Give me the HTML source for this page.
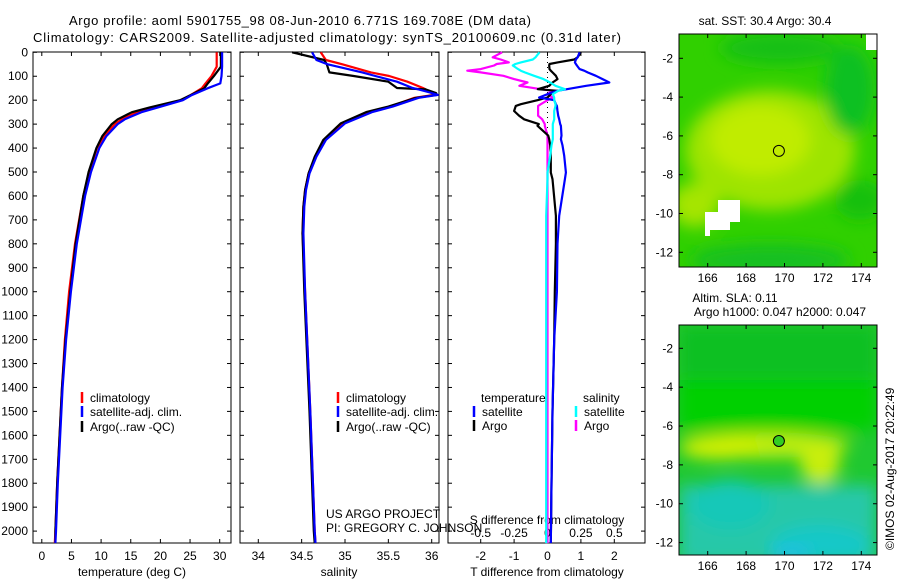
<!DOCTYPE html>
<html><head><meta charset="utf-8"><style>
body{margin:0;background:#fff}
svg{display:block;font-family:"Liberation Sans",sans-serif}
</style></head><body>
<svg id="c" width="900" height="580" viewBox="0 0 900 580">
<defs>
<filter id="bl" x="-20%" y="-20%" width="140%" height="140%"><feGaussianBlur stdDeviation="8"/></filter>
<clipPath id="m1c"><rect x="679" y="34" width="198" height="233"/></clipPath>
<clipPath id="m2c"><rect x="679" y="325" width="198" height="230"/></clipPath>
</defs>
<text x="300" y="25" font-size="13" text-anchor="middle" textLength="462">Argo profile: aoml 5901755_98 08-Jun-2010 6.771S 169.708E (DM data)</text>
<text x="327" y="42" font-size="13" text-anchor="middle" textLength="588">Climatology: CARS2009. Satellite-adjusted climatology: synTS_20100609.nc (0.31d later)</text>

<g>
<g clip-path="url(#m1c)">
<rect x="679" y="34" width="198" height="233" fill="#30d000"/>
<g filter="url(#bl)">
<ellipse cx="770" cy="150" rx="85" ry="60" fill="#9ee400"/>
<ellipse cx="760" cy="140" rx="50" ry="35" fill="#c0ec00"/>
<ellipse cx="695" cy="205" rx="25" ry="22" fill="#a5e500"/>
<ellipse cx="780" cy="48" rx="60" ry="16" fill="#18c018"/>
<ellipse cx="850" cy="90" rx="25" ry="45" fill="#10c020"/>
<ellipse cx="770" cy="260" rx="80" ry="16" fill="#14c020"/>
<ellipse cx="860" cy="200" rx="25" ry="20" fill="#12c010"/>
</g>
<path d="M705,236 L705,212 L718,212 L718,200 L740,200 L740,222 L730,222 L730,230 L710,230 L710,236 Z" fill="#fff"/>
<rect x="866" y="34" width="11" height="16" fill="#fff"/>
</g>
<rect x="679" y="34" width="198" height="233" fill="none" stroke="#000"/>
<circle id="m1dot" r="5.5" fill="none" stroke="#000"/>
<text x="765" y="25" font-size="12" text-anchor="middle">sat. SST: 30.4  Argo: 30.4</text>
<g id="m1ax"></g>
</g>

<g>
<g clip-path="url(#m2c)">
<rect x="679" y="325" width="198" height="230" fill="#20c830"/>
<g filter="url(#bl)">
<rect x="679" y="325" width="198" height="60" fill="#10c020"/>
<rect x="679" y="380" width="198" height="50" fill="#00d000"/>
<rect x="679" y="485" width="198" height="80" fill="#28c8a8"/>
<ellipse cx="730" cy="505" rx="40" ry="25" fill="#18c8b8"/>
<ellipse cx="820" cy="545" rx="50" ry="20" fill="#18c8c8"/>
<ellipse cx="765" cy="445" rx="85" ry="13" fill="#c0ee08"/>
<ellipse cx="820" cy="462" rx="20" ry="22" fill="#c8ee08"/>
<ellipse cx="720" cy="448" rx="40" ry="11" fill="#d4f000"/>
</g>
<ellipse cx="792" cy="552" rx="20" ry="8" fill="#20c0e0" filter="url(#bl)"/>
</g>
<rect x="679" y="325" width="198" height="230" fill="none" stroke="#000"/>
<circle id="m2dot" r="5.5" fill="#33cc22" stroke="#000"/>
<text x="735" y="302" font-size="12" text-anchor="middle">Altim. SLA: 0.11</text>
<text x="780" y="316" font-size="12" text-anchor="middle">Argo h1000: 0.047 h2000: 0.047</text>
<g id="m2ax"></g>
</g>
<text transform="translate(894,550) rotate(-90)" font-size="12">©IMOS 02-Aug-2017 20:22:49</text>

<g id="p1"></g>
<g id="p2"></g>
<g id="p3"></g>
</svg>
<script>
const depthT = [0,60,100,130,150,180,200,230,250,280,300,350,400,500,600,800,1000,1200,1400,1600,1800,2000,2050];
const tempClim = [29.5,29.5,28.6,27.6,27,25,23.5,19,16,13.5,12.3,10.5,9.3,8.0,7.0,5.6,4.6,3.9,3.4,3.0,2.6,2.3,2.2];
const tempSat  = [30.4,30.4,30.3,30.1,28,25.2,23.8,19.6,16.8,14.0,12.8,10.9,9.7,8.3,7.3,5.9,4.9,4.1,3.5,3.1,2.7,2.4,2.3];
const tempArgo = [30.2,30.2,29,28,27.4,25,23.3,18.2,15.2,12.8,11.8,10.2,9.2,7.9,7.0,5.7,4.8,4.0,3.4,3.0,2.6,2.3,2.3];
const depthS = [0,32,50,84,99,123,149,155,170,178,190,227,249,297,366,436,506,575,645,756,1000,1500,2000,2050];
const salClim = [34.72,34.78,34.97,35.3,35.51,35.72,35.9,35.93,36.0,36.03,35.8,35.52,35.29,34.98,34.77,34.66,34.58,34.54,34.52,34.51,34.54,34.6,34.65,34.66];
const salSat  = [34.62,34.67,34.8,35.2,35.35,35.6,35.78,35.85,36.0,36.07,35.85,35.55,35.32,35.0,34.78,34.67,34.59,34.55,34.53,34.52,34.54,34.6,34.65,34.66];
const salArgo = [34.39,34.76,34.79,34.82,35.1,35.5,35.6,35.93,36.05,36.06,35.82,35.5,35.25,34.95,34.75,34.65,34.58,34.54,34.52,34.51,34.53,34.59,34.64,34.65];
const depthD = [0,21,30,42,49,55,70,77,84,98,112,126,140,154,161,175,189,200,217,224,245,265,280,300,307,348,363,389,432,502,530,683,800,1000,1200,1500,1800,2050];
const dTsat  = [0.96,0.9,0.85,0.82,0.85,0.88,0.96,1.1,1.2,1.45,1.65,1.85,1.16,0.58,0.3,0.0,-0.25,0.2,0.25,0.28,0.3,0.32,0.35,0.38,0.4,0.42,0.4,0.45,0.5,0.55,0.52,0.35,0.3,0.28,0.2,0.15,0.12,0.1];
const dTargo = [1.0,0.9,0.8,0.3,0.06,0.05,0.06,0.1,0.15,0.25,0.3,0.15,0.05,-0.29,0.3,0.1,0.0,-0.3,-0.8,-0.95,-1.0,-0.85,-0.7,-0.26,-0.3,0.02,0.05,0.08,0.1,0.1,0.15,0.25,0.25,0.22,0.2,0.15,0.12,0.1];
const dSsat  = [-0.06,-0.09,-0.11,-0.2,-0.24,-0.26,-0.22,-0.2,-0.17,-0.1,-0.03,0.02,0.06,0.13,0.08,0.04,0.05,0.05,0.06,0.06,0.05,0.05,0.05,0.04,0.04,0.04,0.04,0.03,0.02,0.0,0.0,-0.01,-0.01,-0.01,-0.01,-0.01,-0.01,-0.01];
const dSargo = [-0.34,-0.41,-0.35,-0.29,-0.38,-0.4,-0.5,-0.6,-0.5,-0.33,-0.25,-0.15,-0.21,-0.05,0.04,0.0,0.04,0.0,-0.05,-0.07,-0.07,-0.07,-0.04,-0.02,-0.02,0.0,0.0,0.0,0.0,0.0,0.0,0.0,0.0,0.0,0.0,0.0,0.0,0.0];
const depthTicks = [0,100,200,300,400,500,600,700,800,900,1000,1100,1200,1300,1400,1500,1600,1700,1800,1900,2000];
const tempTicks = [0,5,10,15,20,25,30];
const salTicks = [34,34.5,35,35.5,36];
const salTickLabels = ["34","34.5","35","35.5","36"];
const tdTicks = [-2,-1,0,1,2];
const sdTicks = [-0.5,-0.25,0,0.25,0.5];
const sdTickLabels = ["-0.5","-0.25","0","0.25","0.5"];
const lonTicks = [166,168,170,172,174];
const latTicks = [-2,-4,-6,-8,-10,-12];
const floatLon = 169.708, floatLat = -6.771;

const NS="http://www.w3.org/2000/svg";
function mk(tag,attrs,parent,txt){const e=document.createElementNS(NS,tag);for(const k in attrs)e.setAttribute(k,attrs[k]);if(txt!==undefined)e.textContent=txt;parent.appendChild(e);return e;}
const yD = d => 52.3 + d*0.2394;
const xT = t => 41.8 + t*5.93;
const xS = s => 258.3 + (s-34)*86.7;
const xTD = t => 547.5 + t*33.4;
const xSD = s => 547.5 + s*133.6;
const xLon = l => 707.7 + (l-166)*19.2;
const yLat1 = l => 58.3 + (-2-l)*19.4;
const yLat2 = l => 348.3 + (-2-l)*19.43;

function frame(g,x0,x1,name){
  const r=mk('rect',{x:x0,y:52,width:x1-x0,height:491,fill:'none',stroke:'#000'},g);
  
  
  depthTicks.forEach(d=>{mk('line',{x1:x0,x2:x0+4,y1:yD(d),y2:yD(d),stroke:'#000'},g);mk('line',{x1:x1-4,x2:x1,y1:yD(d),y2:yD(d),stroke:'#000'},g);});
}
function xticks(g,vals,labels,fx,y,top){
  vals.forEach((v,i)=>{const x=fx(v);
    mk('line',{x1:x,x2:x,y1:543,y2:539,stroke:'#000'},g);
    if(top) mk('line',{x1:x,x2:x,y1:52,y2:56,stroke:'#000'},g);
    const t=mk('text',{x:x,y:y,'font-size':12,'text-anchor':'middle'},g,labels?labels[i]:String(v));
    
    
  });
}
function line(g,xs,ds,fx,color,name){
  const p=xs.map((v,i)=>(i?'L':'M')+fx(v).toFixed(1)+','+yD(ds[i]).toFixed(1)).join('');
  const e=mk('path',{d:p,fill:'none',stroke:color,'stroke-width':2.2,'stroke-linejoin':'round'},g);
  
  
}
function legend(g,x,y,color,label){
  mk('line',{x1:x,x2:x,y1:y-10,y2:y+1,stroke:color,'stroke-width':2.5},g);
  const t=mk('text',{x:x+8,y:y,'font-size':12},g,label);
  
  
}
const p1=document.getElementById('p1');
frame(p1,33,231,'temperature');
depthTicks.forEach(d=>{const t=mk('text',{x:28,y:yD(d)+4,'font-size':12,'text-anchor':'end'},p1,String(d));
  
  });
xticks(p1,tempTicks,null,xT,560,true);
mk('text',{x:132,y:576,'font-size':12,'text-anchor':'middle'},p1,'temperature (deg C)');
line(p1,tempClim,depthT,xT,'#f00','temp-climatology');
line(p1,tempArgo,depthT,xT,'#000','temp-argo');
line(p1,tempSat,depthT,xT,'#00f','temp-satellite');
legend(p1,82,402,'#f00','climatology');
legend(p1,82,416,'#00f','satellite-adj. clim.');
legend(p1,82,431,'#000','Argo(..raw -QC)');
const p2=document.getElementById('p2');
frame(p2,240,439,'salinity');
xticks(p2,salTicks,salTickLabels,xS,560,true);
mk('text',{x:339,y:576,'font-size':12,'text-anchor':'middle'},p2,'salinity');
line(p2,salClim,depthS,xS,'#f00','sal-climatology');
line(p2,salArgo,depthS,xS,'#000','sal-argo');
line(p2,salSat,depthS,xS,'#00f','sal-satellite');
legend(p2,338,402,'#f00','climatology');
legend(p2,338,416,'#00f','satellite-adj. clim.');
legend(p2,338,431,'#000','Argo(..raw -QC)');
mk('text',{x:326,y:518,'font-size':12},p2,'US ARGO PROJECT');
mk('text',{x:326,y:532,'font-size':12},p2,'PI: GREGORY C. JOHNSON');
const p3=document.getElementById('p3');
frame(p3,448,645,'difference');
xticks(p3,tdTicks,null,xTD,560,true);
sdTicks.forEach((v,i)=>{const t=mk('text',{x:xSD(v),y:537,'font-size':12,'text-anchor':'middle'},p3,sdTickLabels[i]);
  
  });
mk('text',{x:547,y:524,'font-size':12,'text-anchor':'middle'},p3,'S difference from climatology');
mk('text',{x:547,y:576,'font-size':12,'text-anchor':'middle'},p3,'T difference from climatology');
mk('line',{x1:xTD(0),x2:xTD(0),y1:52,y2:yD(420),stroke:'#000','stroke-dasharray':'1,4'},p3);
line(p3,dSargo,depthD,xSD,'#f0f','s-diff-argo');
line(p3,dTargo,depthD,xTD,'#000','t-diff-argo');
line(p3,dTsat,depthD,xTD,'#00f','t-diff-satellite');
line(p3,dSsat,depthD,xSD,'#0ff','s-diff-satellite');
mk('text',{x:481,y:402,'font-size':12},p3,'temperature');
mk('text',{x:583,y:402,'font-size':12},p3,'salinity');
legend(p3,474,416,'#00f','satellite');
legend(p3,474,430,'#000','Argo');
legend(p3,576,416,'#0ff','satellite');
legend(p3,576,430,'#f0f','Argo');
function mapAxes(gid,yTop,yBot,fy){
  const g=document.getElementById(gid);
  lonTicks.forEach(l=>{const x=xLon(l);
    mk('line',{x1:x,x2:x,y1:yBot,y2:yBot-4,stroke:'#000'},g);mk('line',{x1:x,x2:x,y1:yTop,y2:yTop+4,stroke:'#000'},g);
    const t=mk('text',{x:x,y:yBot+15,'font-size':12,'text-anchor':'middle'},g,String(l));
    
    });
  latTicks.forEach(l=>{const y=fy(l);
    mk('line',{x1:679,x2:683,y1:y,y2:y,stroke:'#000'},g);mk('line',{x1:873,x2:877,y1:y,y2:y,stroke:'#000'},g);
    const t=mk('text',{x:673,y:y+4,'font-size':12,'text-anchor':'end'},g,String(l));
    
    });
}
mapAxes('m1ax',34,267,yLat1);
mapAxes('m2ax',325,555,yLat2);
const d1=document.getElementById('m1dot');d1.setAttribute('cx',xLon(floatLon));d1.setAttribute('cy',yLat1(floatLat));


const d2=document.getElementById('m2dot');d2.setAttribute('cx',xLon(floatLon));d2.setAttribute('cy',yLat2(floatLat));


</script>
</body></html>
